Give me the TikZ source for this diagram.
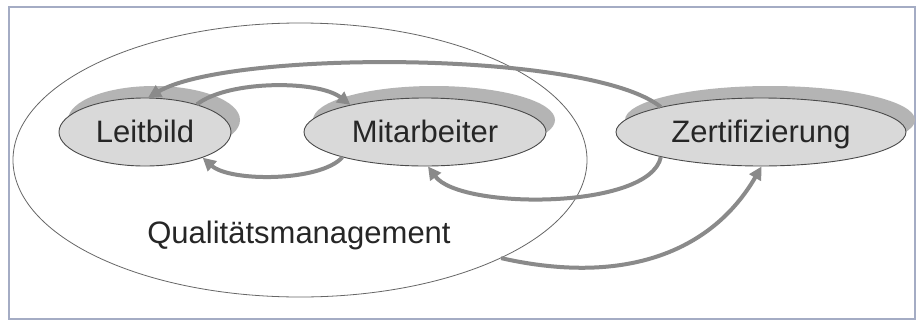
\documentclass[tikz,border=0pt]{standalone}
\usepackage{fontspec}
\setmainfont{Liberation Sans}
\usetikzlibrary{shapes.geometric,shadows,arrows.meta}
\definecolor{framec}{HTML}{A4ACC4}
\definecolor{ellfill}{HTML}{D9D9D9}
\definecolor{ellline}{HTML}{4A4A4A}
\definecolor{shadowc}{HTML}{B4B4B4}
\definecolor{arrowc}{HTML}{8A8A8A}
\definecolor{txt}{HTML}{262626}
\begin{document}
\begin{tikzpicture}[x=1pt,y=-1pt,
  topic/.style={ellipse, draw=ellline, line width=0.9pt, fill=ellfill, inner sep=0pt,
    minimum height=68pt, text=txt, font=\fontsize{31}{36}\selectfont,
    text height=21pt, text depth=0pt,
    drop shadow={shadow xshift=9pt, shadow yshift=12pt, fill=shadowc, opacity=1}},
  flow/.style={draw=arrowc, line width=4pt, -{Triangle[length=13pt,width=13pt]}},
  bigell/.style={ellipse, draw=black!60, line width=0.8pt, inner sep=0pt},
  plain/.style={text=txt, font=\fontsize{31}{36}\selectfont, text height=21pt, text depth=0pt, inner sep=0pt}]
\useasboundingbox (0,0) rectangle (919,322);
\fill[white] (0,0) rectangle (919,322);
\draw[framec, line width=1.2pt] (9,7) rectangle (915,319);

\node[bigell, minimum width=574pt, minimum height=274pt] (qm) at (300,160) {};
\node[plain] (qmlabel) at (299,233) {Qualitätsmanagement};

\node[topic, minimum width=172pt] (lb) at (145,132) {Leitbild};
\node[topic, minimum width=242pt] (mb) at (425,132) {Mitarbeiter};
\node[topic, minimum width=290pt] (zt) at (761,132) {Zertifizierung};

\draw[flow] (lb.28) .. controls (228,80) and (318,80) .. (mb.160);
\draw[flow] (mb.197) .. controls (320,182) and (230,182) .. (lb.-24);
\draw[flow] (zt.166) .. controls (590,50) and (230,50) .. (lb.85);
\draw[flow] (zt.194) .. controls (650,210) and (460,210) .. (mb.-85);
\draw[flow] (qm.-26) .. controls (620,285) and (710,255) .. (zt.-89);
\end{tikzpicture}
\end{document}
